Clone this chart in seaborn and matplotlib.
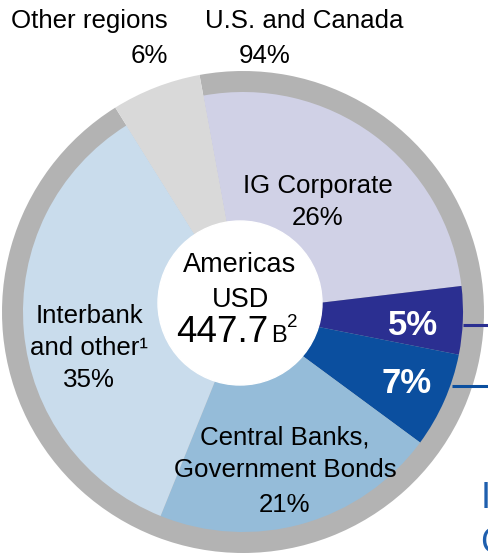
import matplotlib
matplotlib.use("Agg")
import matplotlib.pyplot as plt
import seaborn as sns

# data
segment_names = ["IG Corporate", "Investment grade 5%", "Investment grade 7%",
                 "Central Banks,\nGovernment Bonds", "Interbank\nand other\u00b9", "Other regions"]
segment_shares = [26, 5, 7, 21, 35, 6]
region_names = ["U.S. and Canada", "Other regions"]
region_shares = [94, 6]
total_usd_b = 447.7

sns.set_theme(style="white")
plt.rcParams["font.family"] = ["Liberation Sans", "DejaVu Sans"]

segment_colors = ["#d0d1e6", "#2b2f91", "#0b4f9f", "#95bcd9", "#c9dcec", "#d9d9d9"]
region_colors = ["#b3b3b3", "#d9d9d9"]

W, H = 488, 554
fig = plt.figure(figsize=(W / 100, H / 100), dpi=100)
ax = fig.add_axes([0, 0, 1, 1])


def Y(y):
    # image pixel row -> data y
    return H - y


cx, cy = 243, Y(312)
start = 100.4

# outer ring: regions
ax.pie(region_shares, radius=241, center=(cx, cy), startangle=start, counterclock=False,
       colors=region_colors, wedgeprops=dict(linewidth=0))
# inner pie: segments
wedges, _ = ax.pie(segment_shares, radius=220, center=(cx, cy), startangle=start,
                   counterclock=False, colors=segment_colors, wedgeprops=dict(linewidth=0))
ax.add_patch(plt.Circle((240, Y(303)), 82, color="white", zorder=5))

ax.set_xlim(0, W)
ax.set_ylim(0, H)
ax.set_aspect("equal")
ax.axis("off")

txt = dict(color="black", va="baseline", zorder=6)
fs = 18.6

# region labels above the ring
ax.text(168, Y(28), region_names[1], ha="right", fontsize=fs, **txt)
ax.text(168, Y(63), f"{region_shares[1]}%", ha="right", fontsize=fs, **txt)
ax.text(304, Y(28), region_names[0], ha="center", fontsize=fs, **txt)
ax.text(265, Y(63), f"{region_shares[0]}%", ha="center", fontsize=fs, **txt)

# segment labels
ax.text(318, Y(193), segment_names[0], ha="center", fontsize=fs, **txt)
ax.text(318, Y(225), f"{segment_shares[0]}%", ha="center", fontsize=fs, **txt)

for i, line in enumerate(segment_names[4].split("\n")):
    ax.text(89, Y(323 + 32 * i), line, ha="center", fontsize=fs, **txt)
ax.text(89, Y(387), f"{segment_shares[4]}%", ha="center", fontsize=fs, **txt)

for i, line in enumerate(segment_names[3].split("\n")):
    ax.text(285, Y(444 + 33 * i), line, ha="center", fontsize=fs, **txt)
ax.text(285, Y(512), f"{segment_shares[3]}%", ha="center", fontsize=fs, **txt)

ax.text(413, Y(335), f"{segment_shares[1]}%", ha="center", fontsize=25, fontweight="bold",
        color="white", va="baseline", zorder=6)
ax.text(407, Y(393), f"{segment_shares[2]}%", ha="center", fontsize=25, fontweight="bold",
        color="white", va="baseline", zorder=6)

# connectors leading off to the right
ax.plot([463, W], [Y(325), Y(325)], color=segment_colors[1], lw=2.2, solid_capstyle="butt", zorder=4)
ax.plot([452, W], [Y(386), Y(386)], color=segment_colors[2], lw=2.2, solid_capstyle="butt", zorder=4)

# centre total
ax.text(240, Y(272), "Americas", ha="center", fontsize=19.5, **txt)
ax.text(240, Y(307), "USD", ha="center", fontsize=19.5, **txt)
ax.text(268, Y(342), f"{total_usd_b}", ha="right", fontsize=26.5, **txt)
ax.text(271, Y(342), "B", ha="left", fontsize=17, **txt)
ax.text(287, Y(327), "2", ha="left", fontsize=13.5, **txt)

# heading that runs off the right edge in the reference
ax.text(481, Y(508), "In", ha="left", fontsize=26, color="#1f5fae", va="baseline")
ax.text(480, Y(553), "Co", ha="left", fontsize=26, color="#1f5fae", va="baseline")

fig.savefig("out.png", dpi=100)
